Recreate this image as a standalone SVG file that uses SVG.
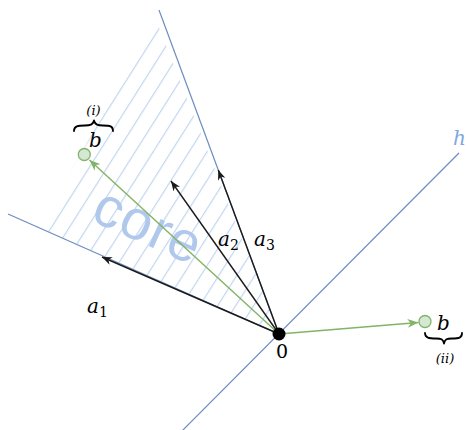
<svg xmlns="http://www.w3.org/2000/svg" width="468" height="430" viewBox="0 0 468 430">
<style>
.blue{stroke:#6C8EBF;stroke-width:1.2;fill:none}
.vec{stroke:#1a1a1a;stroke-width:1.4;fill:none}
.gvec{stroke:#82B366;stroke-width:1.4;fill:none}
.pt{fill:#D5E8D4;stroke:#82B366;stroke-width:1.3}
.math{font-family:"DejaVu Serif","Liberation Serif",serif;font-style:italic;font-size:20px;fill:#000}
.sub{font-style:normal;font-size:14px}
.brace{stroke:#000;stroke-width:1.8;fill:none;stroke-linecap:round;stroke-linejoin:round}
</style>
<defs>
<pattern id="hatch" patternUnits="userSpaceOnUse" width="15.2" height="15.2" patternTransform="rotate(32.3)">
<line x1="13" y1="-1" x2="13" y2="16.2" stroke="#B7CDEE" stroke-width="1"/>
</pattern>
<marker id="ah" viewBox="0 0 10 8" refX="10" refY="4" markerWidth="10" markerHeight="8" markerUnits="userSpaceOnUse" orient="auto">
<path d="M0,0 L10,4 L0,8 L3,4 Z" fill="#1a1a1a"/>
</marker>
<marker id="gah" viewBox="0 0 10 8" refX="10" refY="4" markerWidth="11" markerHeight="9" markerUnits="userSpaceOnUse" orient="auto">
<path d="M0,0 L10,4 L0,8 L3,4 Z" fill="#82B366"/>
</marker>
</defs>

<g id="cone">
<polygon points="279,333 38,227 157,22" fill="url(#hatch)"/>
<text x="0" y="0" transform="translate(147,229) rotate(24)" text-anchor="middle" dy="15" font-family="'Liberation Sans',Arial,sans-serif" font-size="56" fill="#AFC8EC" letter-spacing="1">core</text>
</g>

<g id="connectors">
<line class="blue" x1="159" y1="10" x2="279" y2="334"/>
<line class="blue" x1="8" y1="214" x2="279" y2="334"/>
<line id="h-line" class="blue" x1="459" y1="153" x2="170" y2="443"/>
<line class="vec" x1="279" y1="334" x2="102" y2="257" marker-end="url(#ah)"/>
<line class="vec" x1="279" y1="334" x2="171" y2="181" marker-end="url(#ah)"/>
<line class="vec" x1="279" y1="334" x2="218.3" y2="170" marker-end="url(#ah)"/>
<line class="gvec" x1="279" y1="334" x2="89.5" y2="160" marker-end="url(#gah)"/>
<line class="gvec" x1="279" y1="334" x2="418.5" y2="322.5" marker-end="url(#gah)"/>
</g>

<g id="origin">
<circle cx="279" cy="334" r="6.5" fill="#000"/>
<text x="282" y="358" text-anchor="middle" font-family="'DejaVu Serif','Liberation Serif',serif" font-size="19">0</text>
</g>

<g id="b-i">
<circle class="pt" cx="84.3" cy="154.5" r="6"/>
<text class="math" x="89" y="147">b</text>
<path class="brace" d="M74,131 C74,126 78,125.5 85,125.5 C90,125.5 93,125 94,120.5 C95,125 98,125.5 103,125.5 C110,125.5 113,126 113,131"/>
<text class="math" x="93.5" y="115" text-anchor="middle" style="font-size:13px">(i)</text>
</g>

<g id="b-ii">
<circle class="pt" cx="425" cy="321.5" r="6"/>
<text class="math" x="437" y="330">b</text>
<path class="brace" d="M425,333 C425,338 429,338.5 436,338.5 C441,338.5 443,339 444,343.5 C445,339 447,338.5 452,338.5 C459,338.5 462,338 462,333"/>
<text class="math" x="445" y="363" text-anchor="middle" style="font-size:13px">(ii)</text>
</g>

<g id="labels">
<text class="math" x="87" y="313">a<tspan class="sub" dy="4">1</tspan></text>
<text class="math" x="218" y="246">a<tspan class="sub" dy="4">2</tspan></text>
<text class="math" x="254" y="246">a<tspan class="sub" dy="4">3</tspan></text>
<text class="math" x="453" y="145" style="fill:#7EA6E0">h</text>
</g>
</svg>
